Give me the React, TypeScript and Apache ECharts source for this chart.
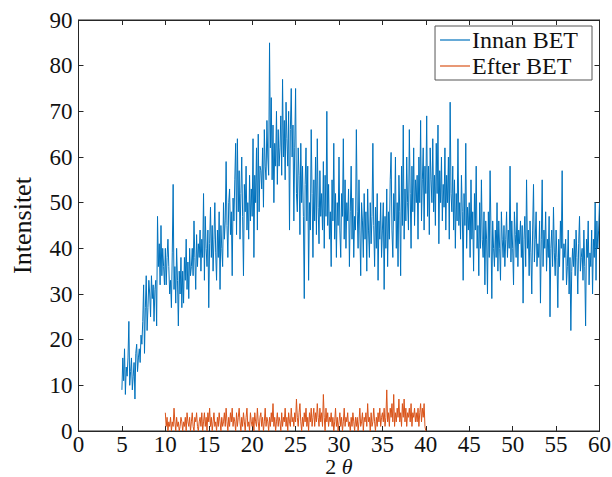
import React, { useEffect, useRef } from "react";
import * as echarts from "echarts";

// Innan BET: 2θ from 5.0 to 60.0, step 0.1
const innanStart = 5.0;
const step = 0.1;
const innanBET: number[] = [
  9,16,11,18,8,14,12,16,24,10,
  13,16,9,12,15,7,17,19,13,16,
  18,15,21,19,24,32,17,27,34,22,
  27,33,30,25,34,29,32,24,31,33,
  23,47,36,41,32,45,34,40,36,32,
  40,32,38,42,36,30,33,27,39,54,
  31,36,28,40,33,23,35,30,38,27,
  35,28,38,33,42,31,37,29,40,34,
  36,40,34,46,38,31,43,36,41,38,
  44,35,42,38,52,33,47,40,36,44,
  27,41,49,38,45,35,42,50,39,33,
  44,38,48,31,45,40,36,50,42,46,
  59,45,38,50,53,43,48,34,51,46,
  55,63,43,64,48,57,42,52,60,47,
  34,54,48,58,44,50,42,56,46,53,
  47,64,38,56,50,62,44,65,48,58,
  57,53,62,49,66,58,55,68,60,56,
  85,62,73,55,67,50,63,58,70,54,
  66,58,62,69,56,77,60,68,55,72,
  64,58,70,44,66,75,60,67,46,62,
  75,52,48,62,56,43,63,50,58,47,
  29,54,62,46,58,33,50,44,66,52,
  38,55,46,60,43,64,49,41,57,47,
  52,44,59,40,56,47,70,45,54,42,
  48,36,55,46,63,42,52,38,50,45,
  60,44,38,52,47,64,42,55,40,50,
  46,53,36,48,58,42,51,38,47,44,
  66,48,40,55,44,34,50,46,38,52,
  42,48,35,53,44,38,50,41,47,63,
  45,36,49,40,52,33,46,42,50,38,
  44,50,31,47,40,53,36,48,42,55,
  61,44,38,52,46,60,40,50,36,56,
  48,34,58,45,67,42,53,46,60,50,
  44,66,52,40,58,48,62,45,55,50,
  56,42,60,50,68,46,55,62,44,58,
  52,69,47,58,43,62,55,50,64,48,
  56,45,63,52,67,41,57,50,60,46,
  54,49,62,44,56,50,60,42,72,52,
  48,58,44,55,40,52,46,64,45,50,
  42,56,48,33,52,45,63,40,49,44,
  50,38,55,42,48,35,52,44,58,40,
  45,34,50,40,55,42,38,48,32,46,
  42,30,48,38,57,44,29,46,40,36,
  44,38,50,35,46,40,33,48,42,38,
  45,36,42,48,38,44,40,58,37,46,
  40,32,48,43,38,50,36,44,41,46,
  38,45,28,42,47,36,55,40,44,34,
  46,39,30,44,54,37,42,48,36,41,
  38,46,28,42,55,36,44,40,48,35,
  42,38,47,25,40,44,36,49,39,34,
  44,38,27,42,36,46,40,57,33,41,
  38,42,32,36,44,30,38,22,35,40,
  36,42,34,44,38,30,41,47,35,38,
  40,33,44,36,23,42,38,46,32,39,
  36,44,30,42,38,50,33,46,40,44,
  50,
];

// Efter BET: 2θ from 10.0 to 40.0, step 0.1
const efterStart = 10.0;
const efterBET: number[] = [
  4,1,3,0,2,1,3,0,2,1,
  5,2,0,3,1,2,0,1,3,2,
  0,2,1,3,0,4,2,1,3,0,
  2,4,1,0,3,2,4,1,0,2,
  3,1,4,0,2,4,1,3,0,4,
  2,5,1,3,0,2,4,1,2,0,
  3,1,4,2,0,3,1,2,4,1,
  5,2,0,3,1,4,2,5,1,3,
  2,0,4,1,3,5,2,0,3,1,
  4,2,0,3,5,1,2,0,4,2,
  1,3,0,4,2,1,5,2,0,3,
  4,1,3,0,2,5,1,3,2,0,
  3,1,4,2,6,1,3,0,2,4,
  1,3,2,0,4,1,3,2,5,1,
  3,0,4,2,1,5,2,3,1,4,
  2,7,3,1,4,6,2,0,3,1,
  4,2,5,1,3,0,4,2,5,1,
  3,5,1,4,2,6,3,1,5,2,
  4,1,8,3,0,5,2,4,1,3,
  2,4,1,3,0,2,5,1,3,0,
  2,4,1,3,0,2,5,1,3,2,
  4,1,2,0,3,1,4,2,0,3,
  1,3,0,2,5,1,2,4,0,3,
  2,4,1,6,2,3,0,4,1,2,
  5,2,0,3,1,4,2,5,1,3,
  4,2,5,1,3,9,2,4,1,5,
  3,6,2,8,1,4,2,5,3,7,
  2,4,1,6,3,7,2,5,1,4,
  3,5,2,6,1,4,3,5,2,4,
  2,5,1,4,6,2,5,3,6,1,
  0,
];

const xTicks = { min: 0, max: 60, interval: 5 };
const yTicks = { min: 0, max: 90, interval: 10 };

const toPairs = (start: number, ys: number[]) =>
  ys.map((y, i) => [Math.round((start + i * step) * 100) / 100, y]);

const FONT = "'Liberation Serif', 'DejaVu Serif', serif";

export default function App() {
  const ref = useRef<HTMLDivElement>(null);
  useEffect(() => {
    if (!ref.current) return;
    const chart = echarts.init(ref.current, undefined, { renderer: "svg" });
    const axisLine = { show: true, onZero: false, lineStyle: { color: "#262626", width: 1 } };
    const tick = { show: true, inside: true, length: 5, lineStyle: { color: "#262626", width: 1 } };
    chart.setOption({
      animation: false,
      backgroundColor: "#fff",
      grid: {
        left: 78.5,
        right: 12.5,
        top: 20,
        bottom: 46,
        containLabel: false,
        outerBoundsMode: "none",
        show: true,
        borderColor: "#262626",
        borderWidth: 1,
        backgroundColor: "transparent",
      },
      legend: {
        orient: "vertical",
        right: 20,
        top: 26,
        backgroundColor: "#fff",
        borderColor: "#555",
        borderWidth: 1,
        borderRadius: 0,
        padding: [2, 14, 2, 5],
        itemGap: 2,
        itemWidth: 30,
        itemHeight: 1.2,
        icon: "rect",
        textStyle: { fontFamily: FONT, fontSize: 24, color: "#111", padding: [0, 0, 0, -3] },
        data: ["Innan BET", "Efter BET"],
      },
      xAxis: [
        {
          type: "value",
          ...xTicks,
          position: "bottom",
          axisLine,
          axisTick: tick,
          splitLine: { show: false },
          axisLabel: { fontFamily: FONT, fontSize: 23, color: "#111", margin: 2 },
          name: "{a|2 }{b|θ}",
          nameLocation: "middle",
          nameGap: 25,
          nameMoveOverlap: false,
          nameTextStyle: {
            verticalAlign: "top",
            lineHeight: 20,
            rich: {
              a: { fontFamily: FONT, fontSize: 22, color: "#111", lineHeight: 20 },
              b: { fontFamily: FONT, fontSize: 22, color: "#111", fontStyle: "italic", lineHeight: 20 },
            },
          },
        },
        {
          type: "value",
          ...xTicks,
          position: "top",
          show: true,
          axisLine,
          axisTick: tick,
          splitLine: { show: false },
          axisLabel: { show: false },
        },
      ],
      yAxis: [
        {
          type: "value",
          ...yTicks,
          position: "left",
          axisLine,
          axisTick: tick,
          splitLine: { show: false },
          axisLabel: { fontFamily: FONT, fontSize: 23, color: "#111", margin: 6 },
          name: "Intensitet",
          nameLocation: "middle",
          nameGap: 43,
          nameMoveOverlap: false,
          nameRotate: 90,
          nameTextStyle: { fontFamily: FONT, fontSize: 26, color: "#111" },
        },
        {
          type: "value",
          ...yTicks,
          position: "right",
          show: true,
          axisLine,
          axisTick: tick,
          splitLine: { show: false },
          axisLabel: { show: false },
        },
      ],
      series: [
        {
          name: "Innan BET",
          type: "line",
          data: toPairs(innanStart, innanBET),
          showSymbol: false,
          symbol: "none",
          lineStyle: { color: "#0072BD", width: 1 },
          itemStyle: { color: "#0072BD" },
          xAxisIndex: 0,
          yAxisIndex: 0,
        },
        {
          name: "Efter BET",
          type: "line",
          data: toPairs(efterStart, efterBET),
          showSymbol: false,
          symbol: "none",
          lineStyle: { color: "#D95319", width: 1 },
          itemStyle: { color: "#D95319" },
          xAxisIndex: 1,
          yAxisIndex: 1,
        },
      ],
    });
    return () => chart.dispose();
  }, []);
  return <div ref={ref} style={{ width: 612, height: 477, position: "absolute", left: 0, top: 0 }} />;
}
